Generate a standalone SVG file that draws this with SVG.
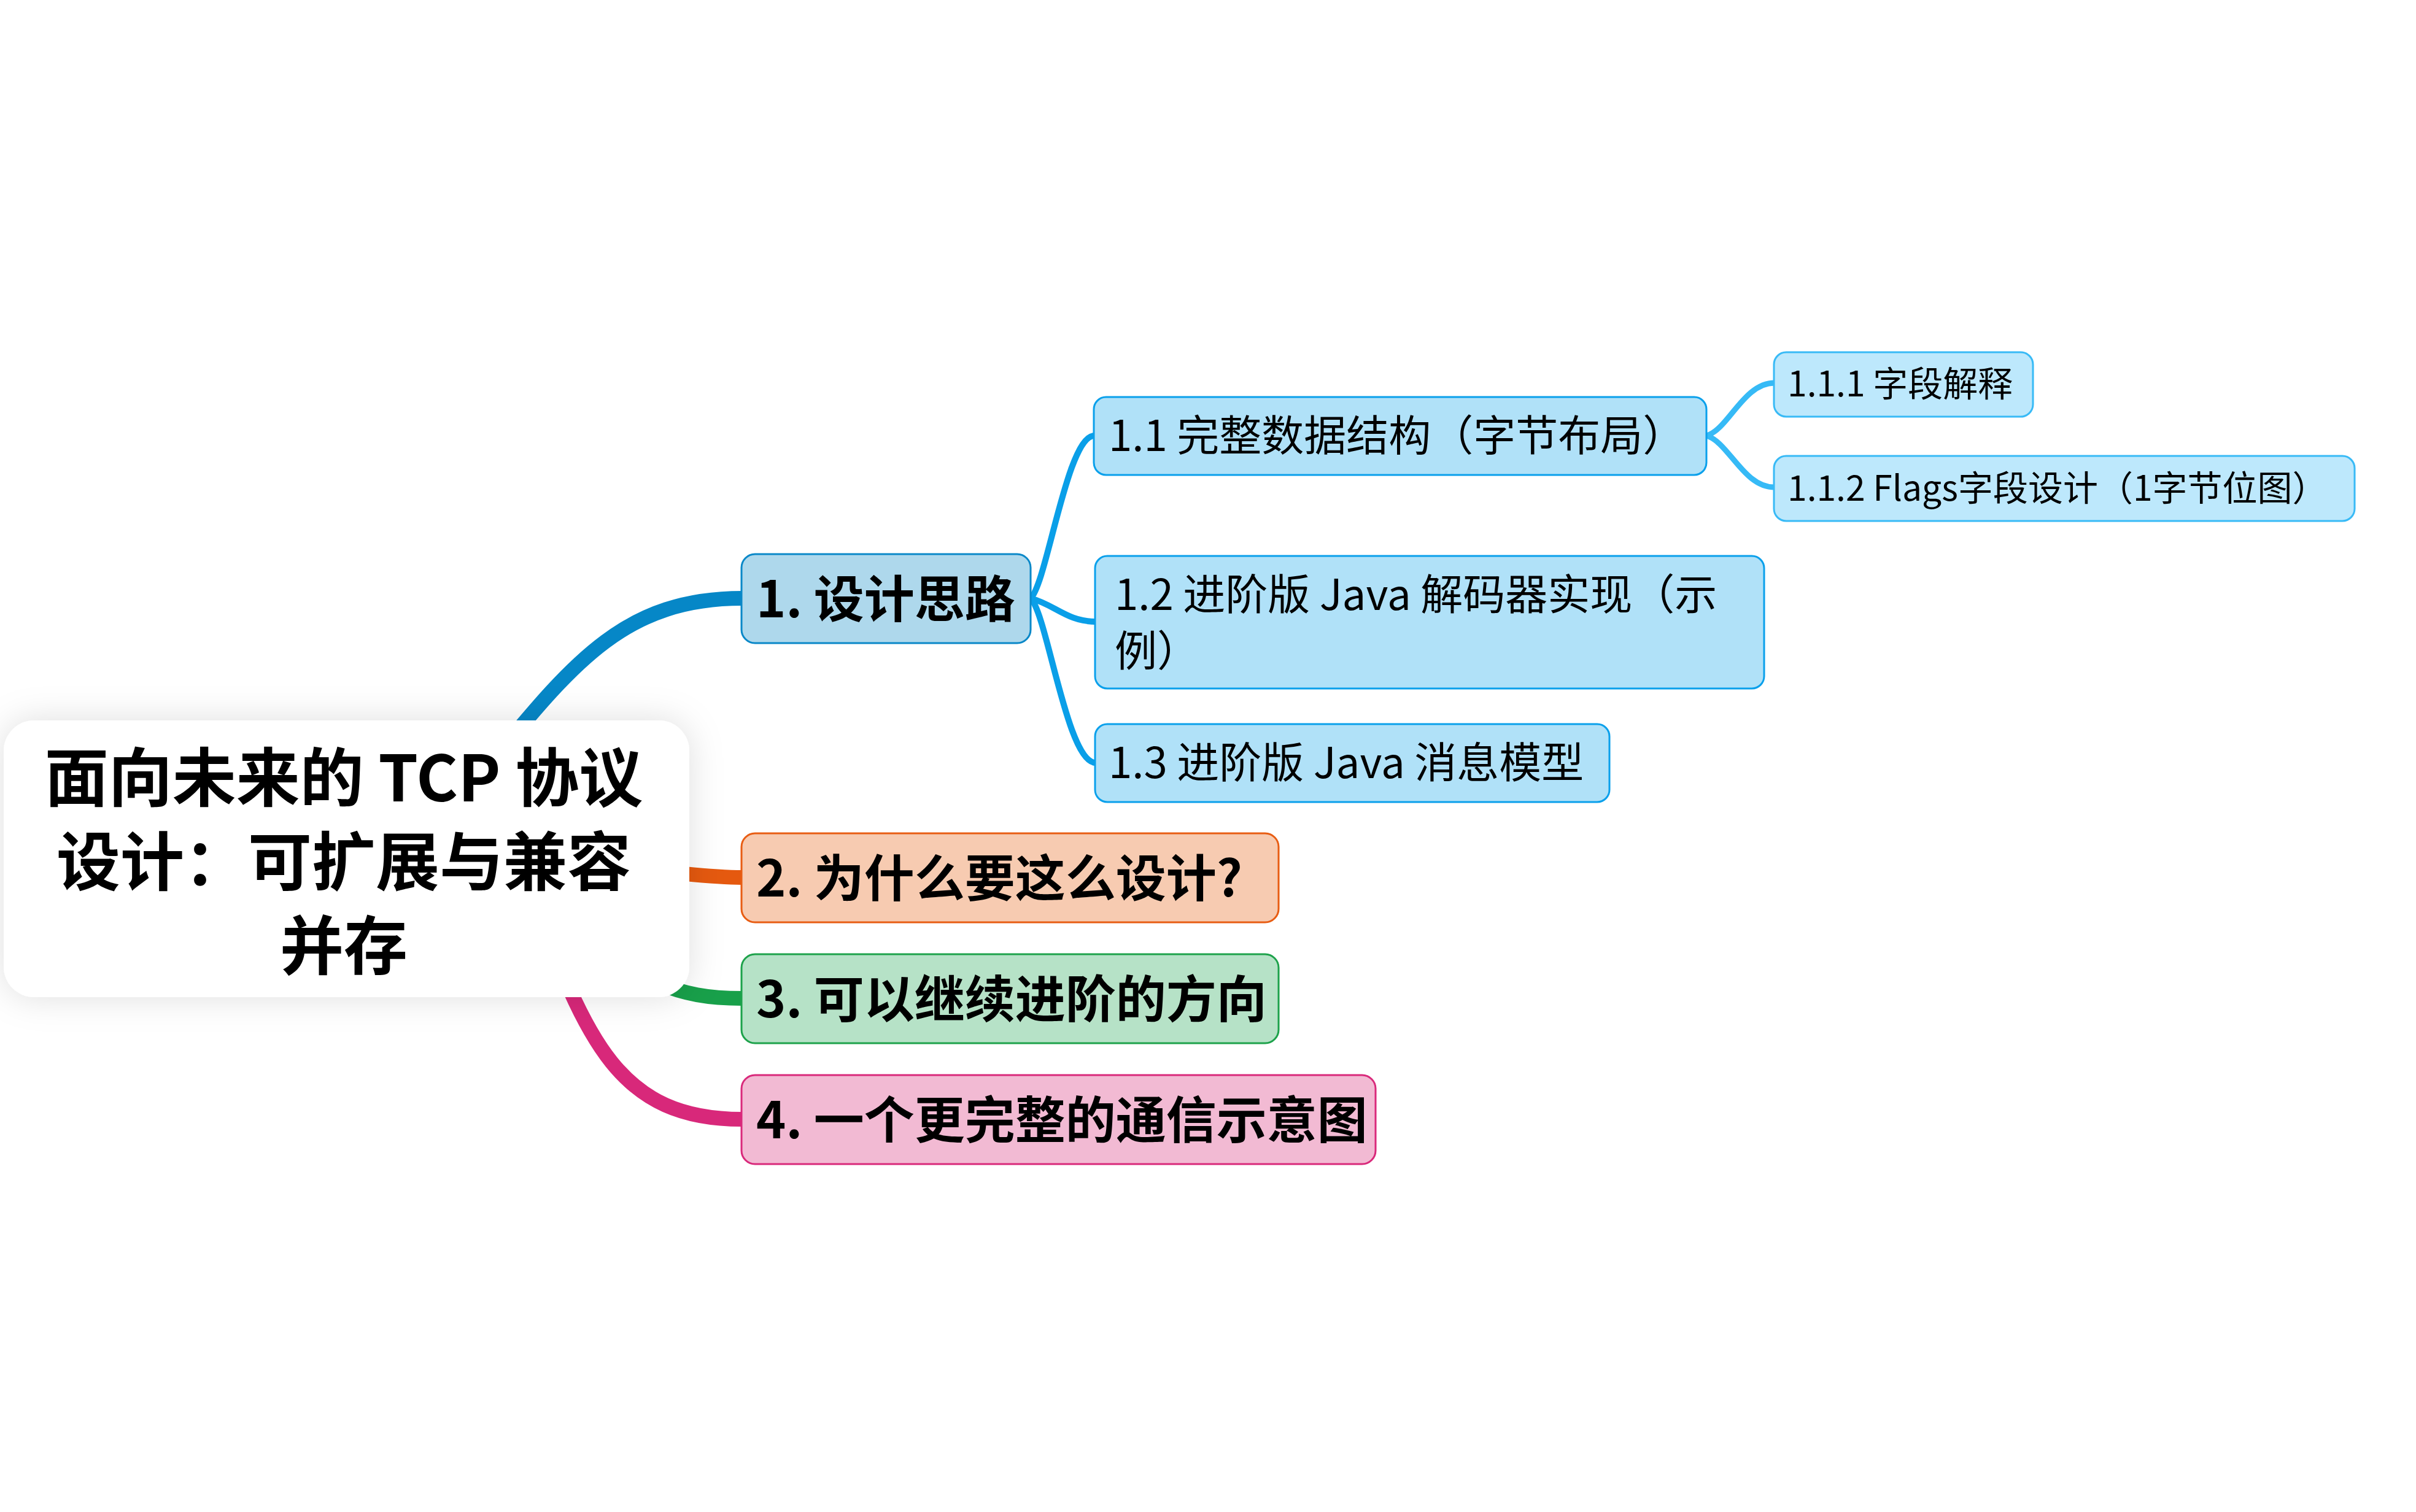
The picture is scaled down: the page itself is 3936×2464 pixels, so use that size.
<svg xmlns="http://www.w3.org/2000/svg" width="3936" height="2464" viewBox="0 0 3936 2464">
<defs>
<filter id="shadow" x="-20%" y="-30%" width="140%" height="160%">
<feDropShadow dx="0" dy="0" stdDeviation="28" flood-color="#000" flood-opacity="0.13"/>
</filter>
<style>
text{font-family:"Noto Sans CJK SC","Noto Sans",sans-serif;fill:#000}
.root{font-size:104px;font-weight:700}
.l1{font-size:82px;font-weight:700}
.l2{font-size:69px}
.l3{font-size:57px}
.c{fill:none;stroke-linecap:butt}
</style>
</defs>
<rect width="3936" height="2464" fill="#fff"/>
<g id="connectors">
<path class="c" d="M760 1290 C920 1100 1000 975 1209 975" stroke="#0687C7" stroke-width="24"/>
<path class="c" d="M900 1412 C1080 1414 1130 1430 1209 1430" stroke="#E5590F" stroke-width="24"/>
<path class="c" d="M900 1500 C1050 1600 1100 1627 1209 1627" stroke="#18A04A" stroke-width="24"/>
<path class="c" d="M865 1450 C955 1700 1010 1824 1209 1824" stroke="#D8287A" stroke-width="24"/>
<path class="c" d="M1679 975 C1706 950 1738 710 1783 710" stroke="#0A9FE8" stroke-width="10"/>
<path class="c" d="M1679 975 C1718 985 1738 1013 1785 1013" stroke="#0A9FE8" stroke-width="10"/>
<path class="c" d="M1679 975 C1706 1000 1738 1243 1785 1243" stroke="#0A9FE8" stroke-width="10"/>
<path class="c" d="M2780 710 C2816 700 2840 624 2891 624" stroke="#36BAF6" stroke-width="9"/>
<path class="c" d="M2780 710 C2816 720 2840 794 2891 794" stroke="#36BAF6" stroke-width="9"/>
</g>
<g id="root">
<rect x="6" y="1174" width="1117" height="451" rx="50" fill="#fff" filter="url(#shadow)"/>
<text class="root" x="560" y="1306" text-anchor="middle">面向未来的 TCP 协议</text>
<text class="root" x="560" y="1443" text-anchor="middle">设计：可扩展与兼容</text>
<text class="root" x="560" y="1580" text-anchor="middle">并存</text>
</g>
<g id="n1">
<rect x="1208" y="903" width="471" height="145" rx="22" fill="#AED8EC" stroke="#0A88C8" stroke-width="3"/>
<text class="l1" x="1232" y="1006">1. 设计思路</text>
</g>
<g id="n11">
<rect x="1782" y="647" width="998" height="127" rx="20" fill="#B0E1F8" stroke="#0AA0EB" stroke-width="3"/>
<text class="l2" x="1806" y="735">1.1 完整数据结构（字节布局）</text>
</g>
<g id="n111">
<rect x="2890" y="574" width="422" height="105" rx="20" fill="#BDE8FC" stroke="#38BAF6" stroke-width="3"/>
<text class="l3" x="2912" y="646">1.1.1 字段解释</text>
</g>
<g id="n112">
<rect x="2890" y="743" width="946" height="106" rx="20" fill="#BDE8FC" stroke="#38BAF6" stroke-width="3"/>
<text class="l3" x="2912" y="816">1.1.2 Flags字段设计（1字节位图）</text>
</g>
<g id="n12">
<rect x="1784" y="906" width="1090" height="216" rx="20" fill="#B0E1F8" stroke="#0AA0EB" stroke-width="3"/>
<text class="l2" x="1816" y="994">1.2 进阶版 Java 解码器实现（示</text>
<text class="l2" x="1816" y="1086">例）</text>
</g>
<g id="n13">
<rect x="1784" y="1180" width="838" height="127" rx="20" fill="#B0E1F8" stroke="#0AA0EB" stroke-width="3"/>
<text class="l2" x="1806" y="1268">1.3 进阶版 Java 消息模型</text>
</g>
<g id="n2">
<rect x="1208" y="1358" width="875" height="145" rx="22" fill="#F7CBB1" stroke="#E85D13" stroke-width="3"/>
<text class="l1" x="1232" y="1461">2. 为什么要这么设计?</text>
</g>
<g id="n3">
<rect x="1208" y="1555" width="875" height="145" rx="22" fill="#B6E2C7" stroke="#1DA24B" stroke-width="3"/>
<text class="l1" x="1232" y="1658">3. 可以继续进阶的方向</text>
</g>
<g id="n4">
<rect x="1208" y="1752" width="1033" height="145" rx="22" fill="#F2BAD3" stroke="#D9297B" stroke-width="3"/>
<text class="l1" x="1232" y="1855">4. 一个更完整的通信示意图</text>
</g>
</svg>
